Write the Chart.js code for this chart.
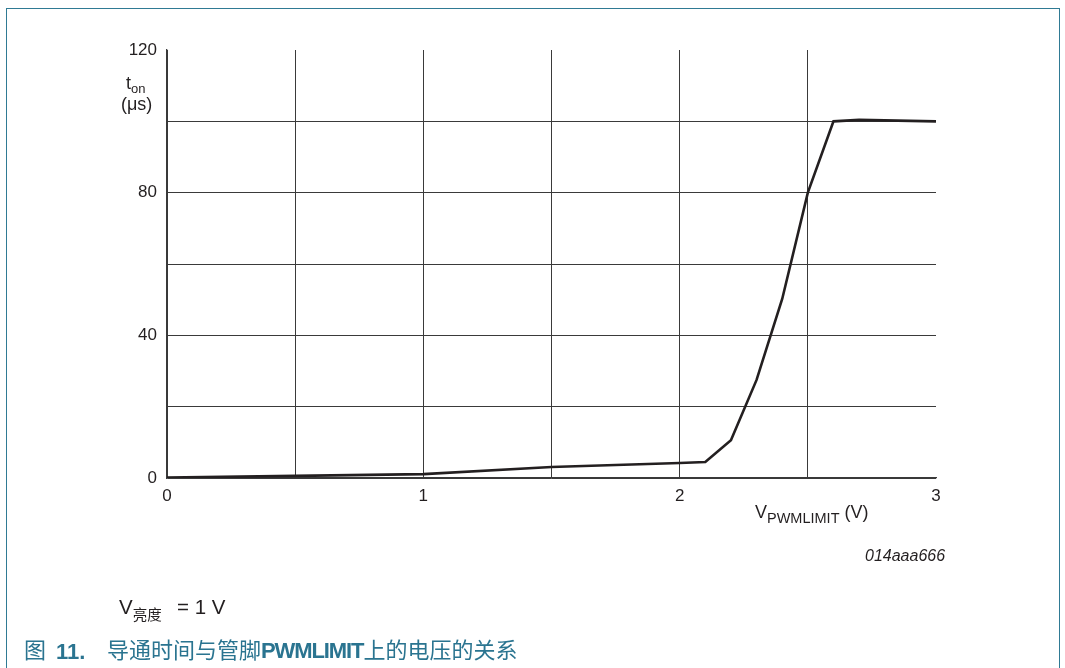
<!DOCTYPE html>
<html><head><meta charset="utf-8">
<script src="https://cdn.jsdelivr.net/npm/chart.js@4.4.0/dist/chart.umd.min.js"></script>
<style>
html,body{margin:0;padding:0;background:#fff;}
#wrap{position:relative;width:1065px;height:668px;overflow:hidden;font-family:"Liberation Sans",Arial,sans-serif;color:#231f20;}
#frame{position:absolute;left:6px;top:8px;width:1054px;height:700px;border:1.5px solid #2f7a94;box-sizing:border-box;}
#cv{position:absolute;left:0;top:0;}
.t{position:absolute;white-space:nowrap;font-size:17px;}
.cap{position:absolute;white-space:nowrap;top:633px;height:30px;line-height:30px;font-size:22px;color:#2a7490;font-family:'Noto Sans CJK SC','Liberation Sans',sans-serif;}
sub{font-size:12px;vertical-align:-4px;}
</style></head><body>
<div id="wrap">
<div id="frame"></div>
<canvas id="cv" width="1065" height="668"></canvas>
<div class="t" style="left:126px;top:73px;font-size:18px;">t<sub style="font-size:13px">on</sub></div>
<div class="t" style="left:121px;top:94px;font-size:18px;">(μs)</div>
<div class="t" style="left:755px;top:502px;font-size:18px;">V<sub style="font-size:14.5px;vertical-align:-5px">PWMLIMIT</sub> (V)</div>
<div class="t" style="left:865px;top:547px;font-style:italic;font-size:16px;">014aaa666</div>
<div class="t" style="left:119px;top:595px;font-size:20.5px;">V<sub style="font-family:'Noto Sans CJK SC';font-size:14.5px;vertical-align:-6px">亮度</sub></div>
<div class="t" style="left:177px;top:595px;font-size:20.5px;">= 1 V</div>
<div class="cap" style="left:24px;">图</div>
<div class="cap" style="left:56px;top:637px;font-family:'Liberation Sans',Arial;font-weight:bold;">11.</div>
<div class="cap" style="left:107px;">导通时间与管脚<b style="font-family:'Liberation Sans',Arial;letter-spacing:-1.1px">PWMLIMIT</b>上的电压的关系</div>
</div>
<script>
const xValues = [0, 0.5, 1, 1.5, 2, 2.1, 2.2, 2.3, 2.4, 2.5, 2.6, 2.7, 3];
const tonValues = [0.1, 0.6, 1.1, 3.1, 4.2, 4.5, 10.6, 27.5, 50.2, 80, 100, 100.4, 100];
const xTickLabels = {0:'0', 1:'1', 2:'2', 3:'3'};
const yTickLabels = {0:'0', 40:'40', 80:'80', 120:'120'};

const pts = xValues.map((x,i)=>({x:x, y:tonValues[i]}));
new Chart(document.getElementById('cv'), {
  type:'line',
  data:{datasets:[{data:pts, borderColor:'#231f20', borderWidth:2.6, pointRadius:0, tension:0, fill:false}]},
  options:{
    responsive:false, animation:false,
    layout:{padding:{left:107, top:50, right:129, bottom:160}},
    plugins:{legend:{display:false}, tooltip:{enabled:false}},
    scales:{
      x:{type:'linear', min:0, max:3,
        afterFit:s=>{s.height=30;},
        ticks:{stepSize:0.5, autoSkip:false, maxRotation:0, padding:8, color:'#231f20', font:{family:'Liberation Sans', size:17},
          callback:v=> (xTickLabels[v]!==undefined? xTickLabels[v] : '')},
        grid:{drawTicks:false, lineWidth:1, color:c=> (c.tick && c.tick.value===3) ? 'rgba(0,0,0,0)' : '#3a3a3a'},
        border:{display:true, color:'#3a3a3a', width:1.3}
      },
      y:{type:'linear', min:0, max:120,
        afterFit:s=>{s.width=60;},
        ticks:{stepSize:20, autoSkip:false, padding:10, color:'#231f20', font:{family:'Liberation Sans', size:17},
          callback:v=> (yTickLabels[v]!==undefined? yTickLabels[v] : '')},
        grid:{drawTicks:false, lineWidth:1, color:c=> (c.tick && c.tick.value===120) ? 'rgba(0,0,0,0)' : '#3a3a3a'},
        border:{display:true, color:'#3a3a3a', width:1.3}
      }
    }
  }
});
</script>
</body></html>
